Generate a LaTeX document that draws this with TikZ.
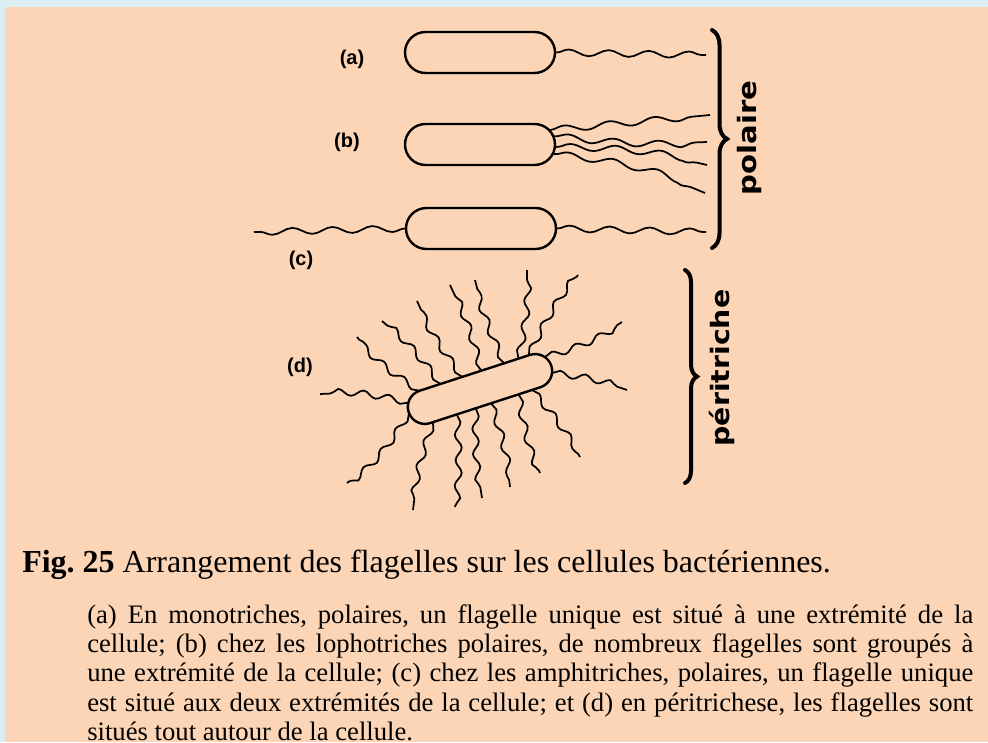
\documentclass[tikz,border=0pt]{standalone}
\usepackage{fontspec}
\usepackage{graphicx}
\setmainfont{Liberation Serif}
\newfontfamily\labelfont{Liberation Sans}
\newfontfamily\sidefont{DejaVu Sans}
\usetikzlibrary{calc,shapes.misc,decorations.pathmorphing,decorations.pathreplacing}

\definecolor{pageblue}{HTML}{DBEEF4}
\definecolor{peach}{HTML}{FBD5B5}

\frenchspacing
\hyphenpenalty=10000
\hbadness=10000

\tikzset{
  cell/.style={draw, line width=1.8pt, rounded rectangle, fill=peach,
    minimum width=112.5pt, minimum height=30.75pt, inner sep=0pt},
  flag/.style={line width=1.3pt, decorate,
    decoration={snake, segment length=30pt, amplitude=2.4pt}},
  tuft/.style={flag, decoration={snake, segment length=19pt, amplitude=2.4pt}},
  curly/.style={decorate, decoration={brace}, line width=3pt, line cap=round},
  lbl/.style={font=\labelfont\bfseries\fontsize{15}{15}\selectfont, inner sep=0pt},
  side/.style={rotate=90, font=\sidefont\bfseries\fontsize{19}{19}\selectfont, inner sep=0pt}
}

\begin{document}
\begin{tikzpicture}[x=0.75pt,y=-0.75pt]
  \useasboundingbox (0,0) rectangle (988,742);

  % Page and panel
  \fill[pageblue] (0,0) rectangle (988,742);
  \fill[peach] (5,7) rectangle (988,742);

  % Polar cells
  \node[cell] (ca) at (480,52.5) {};
  \node[cell] (cb) at (480,144.5) {};
  \node[cell] (cc) at (481,228.5) {};

  % Free ends of the polar flagella
  \coordinate (fa) at (706,55);
  \coordinate (fb1) at (710,115);
  \coordinate (fb2) at (707,142);
  \coordinate (fb3) at (707,165);
  \coordinate (fb4) at (705,193);
  \coordinate (fcl) at (254,232);
  \coordinate (fcr) at (706,232);

  % (a) one flagellum
  \draw[flag] (ca.east) -- (fa);
  % (b) a tuft at one end
  \draw[flag, decoration={segment length=34pt}] ($(cb.east)+(-6,-14.5)$) -- (fb1);
  \draw[flag, decoration={segment length=34pt}] ($(cb.east)+(-2,-8.3)$) to[bend right=4] (fb2);
  \draw[flag, decoration={segment length=34pt}] ($(cb.east)+(0,2.5)$) to[bend left=6] (fb3);
  \draw[flag, decoration={segment length=34pt}] ($(cb.east)+(-2.4,9.6)$) to[bend left=8] (fb4);
  % (c) one at each end
  \draw[flag] (cc.west) -- (fcl);
  \draw[flag] (cc.east) -- (fcr);

  % Peritrichous cell
  \node[cell, rotate=18, minimum height=25.5pt] (cd) at (480,389) {};
  \begin{scope}[shift={(cd.center)}, rotate=18]
    \foreach \i/\u/\v in {1/-58/-17, 2/-36/-17, 3/-13/-17, 4/7/-17, 5/31/-17,
        6/46/-17, 7/57/-17, 8/71.6/-10.2, 9/73.5/7.1, 10/-72.3/-9.2, 11/-75/1,
        12/-55/17, 13/-30/17, 14/-10/17, 15/6/17, 16/35/17, 17/49/17}
      \coordinate (d\i) at (\u,\v);
  \end{scope}
  \foreach \i/\px/\py in {1/357/337, 2/382/321, 3/417/301, 4/450/285, 5/475/280,
      6/527/270, 7/578/275, 8/622/322, 9/627/390, 10/320/394, 11/347/483,
      12/413/510, 13/455/507, 14/482/498, 15/510/487, 16/540/473, 17/580/457}
    \coordinate (p\i) at (\px,\py);
  \foreach \i/\b in {1/8, 2/-6, 3/6, 4/-5, 5/5, 6/-6, 7/6, 8/-8, 9/6, 10/-8,
      11/10, 12/-6, 13/5, 14/-5, 15/6, 16/-6, 17/5}
    \draw[tuft] (d\i) to[bend left=\b] (p\i);

  % Braces and their words
  \draw[curly, decoration={amplitude=11.25pt}] (712,30) -- (712,248);
  \draw[curly, decoration={amplitude=9pt}] (685,270) -- (685,483);
  \node[side] (pol) at (749,138) {\scalebox{1.15}[1]{polaire}};
  \node[side] (per) at (722,368) {\scalebox{1.12}[1]{péritriche}};

  % Letters
  \node[lbl] (la) at (352,59) {(a)};
  \node[lbl] (lb) at (347,142) {(b)};
  \node[lbl] (lc) at (301,260) {(c)};
  \node[lbl] (ld) at (300,367) {(d)};

  % Caption
  \node[anchor=base west, inner sep=0pt, font=\fontsize{24}{24}\selectfont] (cap)
    at (22,572) {\textbf{Fig. 25} Arrangement des flagelles sur les cellules bactériennes.};
  \node[anchor=north west, inner sep=0pt, text width=664.5pt, align=justify,
    font=\fontsize{20}{22}\selectfont] (txt) at (87,604)
    {(a) En monotriches, polaires, un flagelle unique est situé à une extrémité de la\linebreak
     cellule; (b) chez les lophotriches polaires, de nombreux flagelles sont groupés à\linebreak
     une extrémité de la cellule; (c) chez les amphitriches, polaires, un flagelle unique\linebreak
     est situé aux deux extrémités de la cellule; et (d) en péritrichese, les flagelles sont\linebreak
     situés tout autour de la cellule.};
\end{tikzpicture}
\end{document}
